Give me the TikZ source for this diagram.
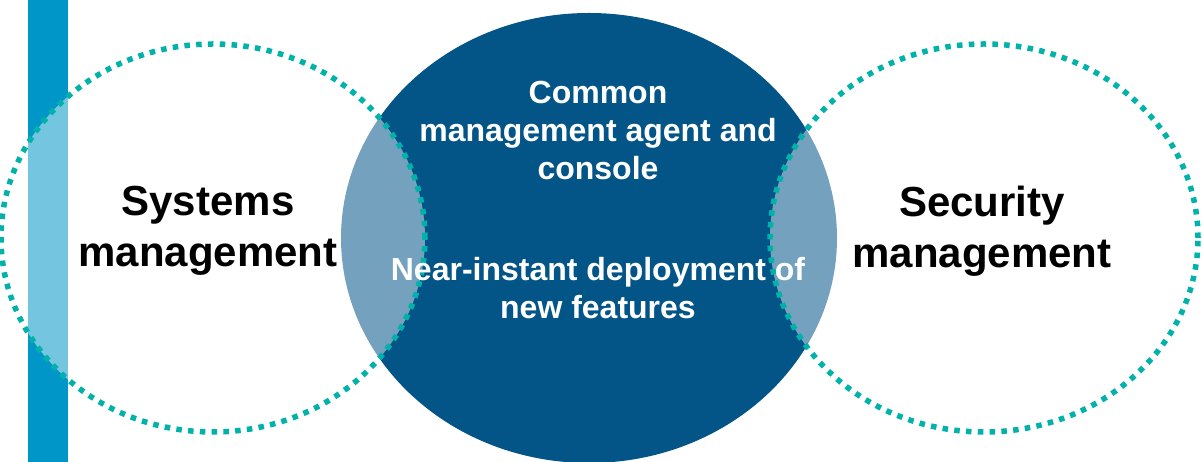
\documentclass[tikz,border=0pt]{standalone}
\usepackage{fontspec}
\setmainfont{Liberation Sans}
\definecolor{barblue}{RGB}{0,150,200}
\definecolor{hubblue}{RGB}{3,84,135}
\definecolor{dotteal}{RGB}{0,178,170}
\tikzset{
  ring/.style={draw=dotteal, line width=5.5pt, dash pattern=on 5.5pt off 6.3pt,
    fill=white, fill opacity=0.45},
  biglabel/.style={font=\bfseries\fontsize{42}{51}\selectfont, align=center, inner sep=0pt},
  hublabel/.style={font=\bfseries\fontsize{32}{38}\selectfont, align=center, inner sep=0pt,
    text=white}
}
\begin{document}
\begin{tikzpicture}[x=1pt,y=1pt]
  \useasboundingbox (0,0) rectangle (1202,462);
  \fill[barblue] (28,0) rectangle (68,462);
  \fill[hubblue] (589,224) ellipse [x radius=248, y radius=225];
  \draw[ring] (213,224) ellipse [x radius=212, y radius=194];
  \draw[ring] (984,224) ellipse [x radius=214, y radius=194];
  \node[biglabel] (sys) at (208,231) {Systems\\management};
  \node[biglabel] (sec) at (982,231) {Security\\management};
  \node[hublabel] (agent) at (598,332) {Common\\management agent and\\console};
  \node[hublabel] (deploy) at (598,174) {Near-instant deployment of\\new features};
\end{tikzpicture}
\end{document}
